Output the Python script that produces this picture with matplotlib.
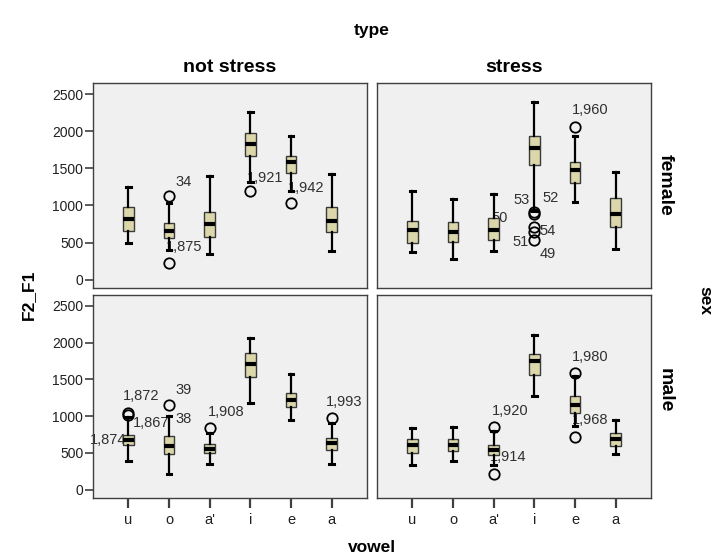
import matplotlib
matplotlib.use("Agg")
import matplotlib.pyplot as plt

plt.rcParams["font.family"] = ["Liberation Sans", "DejaVu Sans"]

vowels = ["u", "o", "a'", "i", "e", "a"]
y_ticks = [0, 500, 1000, 1500, 2000, 2500]

# box stats per panel: whislo, q1, med, q3, whishi (one row per vowel)
female_not_stress = [
    (500, 650, 815, 975, 1250),
    (400, 560, 660, 760, 1030),
    (350, 580, 750, 910, 1390),
    (1310, 1660, 1830, 1970, 2260),
    (1200, 1440, 1580, 1670, 1940),
    (380, 640, 790, 980, 1420),
]
female_stress = [
    (370, 495, 670, 790, 1190),
    (280, 510, 645, 770, 1080),
    (385, 535, 670, 825, 1150),
    (930, 1545, 1775, 1930, 2390),
    (1050, 1305, 1475, 1585, 1940),
    (410, 715, 885, 1105, 1450),
]
male_not_stress = [
    (385, 605, 680, 740, 990),
    (215, 490, 595, 730, 1000),
    (350, 505, 560, 620, 765),
    (1180, 1535, 1705, 1855, 2060),
    (950, 1125, 1225, 1315, 1580),
    (355, 535, 635, 705, 905),
]
male_stress = [
    (330, 505, 605, 695, 845),
    (390, 530, 605, 685, 855),
    (330, 470, 545, 610, 800),
    (1270, 1555, 1750, 1850, 2110),
    (860, 1040, 1155, 1270, 1545),
    (480, 590, 695, 775, 950),
]

# outliers per panel: list of values per vowel
female_not_stress_out = [[], [1130, 225], [], [1195], [1030], []]
female_stress_out = [[], [], [], [905, 890, 715, 640, 540], [2060], []]
male_not_stress_out = [[1045, 1020], [1155], [845], [], [], [980]]
male_stress_out = [[], [], [850, 215], [], [1585, 720], []]

# outlier labels: (vowel index, value, text, dx px, dy px, ha)
female_not_stress_lab = [
    (1, 1130, "34", 6, 14, "left"),
    (1, 225, "1,875", -3, 16, "left"),
    (3, 1195, "1,921", -3, 13, "left"),
    (4, 1030, "1,942", -3, 15, "left"),
]
female_stress_lab = [
    (2, 830, "50", -2, 0, "left"),
    (3, 905, "53", -5, 12, "right"),
    (3, 890, "52", 8, 16, "left"),
    (3, 715, "54", 5, -4, "left"),
    (3, 540, "51", -6, -2, "right"),
    (3, 540, "49", 5, -14, "left"),
    (4, 2060, "1,960", -3, 17, "left"),
]
male_not_stress_lab = [
    (0, 1045, "1,872", -5, 17, "left"),
    (0, 1020, "1,867", 5, -8, "left"),
    (0, 670, "1,874", -2, 0, "right"),
    (1, 1155, "39", 6, 15, "left"),
    (1, 1000, "38", 6, -3, "left"),
    (2, 845, "1,908", -2, 16, "left"),
    (5, 980, "1,993", -6, 16, "left"),
]
male_stress_lab = [
    (2, 850, "1,920", -2, 16, "left"),
    (2, 215, "1,914", -4, 17, "left"),
    (4, 1585, "1,980", -3, 16, "left"),
    (4, 720, "1,968", -3, 17, "left"),
]

box_color = "#dbd7ab"
panel_bg = "#f0f0f0"


def draw_panel(ax, stats, outliers, labels):
    bxp_stats = []
    for (lo, q1, med, q3, hi), fl in zip(stats, outliers):
        bxp_stats.append(dict(whislo=lo, q1=q1, med=med, q3=q3, whishi=hi, fliers=fl))
    ax.bxp(
        bxp_stats,
        positions=range(len(vowels)),
        widths=0.26,
        patch_artist=True,
        boxprops=dict(facecolor=box_color, edgecolor="#3a3a3a", linewidth=1.0),
        medianprops=dict(color="black", linewidth=3, solid_capstyle="butt"),
        whiskerprops=dict(color="black", linewidth=1.6),
        capprops=dict(color="black", linewidth=2.2),
        capwidths=0.12,
        flierprops=dict(marker="o", markerfacecolor="none", markeredgecolor="black",
                        markersize=7.5, markeredgewidth=1.3),
        zorder=3,
    )
    for idx, val, txt, dx, dy, ha in labels:
        ax.annotate(txt, (idx, val), xytext=(dx, dy), textcoords="offset pixels",
                    ha=ha, va="center", fontsize=10.5, color="#303030", zorder=2)
    ax.set_facecolor(panel_bg)
    ax.set_xlim(-0.87, 5.87)
    ax.set_ylim(-110, 2650)
    for s in ax.spines.values():
        s.set_color("#404040")
        s.set_linewidth(1.0)


fig = plt.figure(figsize=(7.21, 5.6), dpi=100)
ax_tl = fig.add_axes([0.129, 0.486, 0.380, 0.366])
ax_tr = fig.add_axes([0.523, 0.486, 0.380, 0.366])
ax_bl = fig.add_axes([0.129, 0.111, 0.380, 0.3625])
ax_br = fig.add_axes([0.523, 0.111, 0.380, 0.3625])

draw_panel(ax_tl, female_not_stress, female_not_stress_out, female_not_stress_lab)
draw_panel(ax_tr, female_stress, female_stress_out, female_stress_lab)
draw_panel(ax_bl, male_not_stress, male_not_stress_out, male_not_stress_lab)
draw_panel(ax_br, male_stress, male_stress_out, male_stress_lab)

for ax in (ax_tl, ax_bl):
    ax.set_yticks(y_ticks)
    ax.set_yticklabels([str(v) for v in y_ticks])
    ax.tick_params(axis="y", length=6, width=1.2, color="#404040", labelsize=10,
                   labelcolor="#202020", pad=1)
for ax in (ax_tr, ax_br):
    ax.set_yticks([])
for ax in (ax_tl, ax_tr):
    ax.set_xticks([])
for ax in (ax_bl, ax_br):
    ax.set_xticks(range(len(vowels)))
    ax.set_xticklabels(vowels)
    ax.tick_params(axis="x", length=7, width=1.6, color="#404040", labelsize=10.5,
                   labelcolor="#202020", pad=4)

fig.text(372 / 721, 1 - 30 / 560, "type", ha="center", va="center",
         fontsize=12.5, fontweight="bold")
fig.text(230 / 721, 1 - 68 / 560, "not stress", ha="center", va="center",
         fontsize=14, fontweight="bold")
fig.text(514 / 721, 1 - 68 / 560, "stress", ha="center", va="center",
         fontsize=14, fontweight="bold")
fig.text(665 / 721, 1 - 185 / 560, "female", ha="center", va="center",
         fontsize=14, fontweight="bold", rotation=-90)
fig.text(665 / 721, 1 - 390 / 560, "male", ha="center", va="center",
         fontsize=14, fontweight="bold", rotation=-90)
fig.text(705 / 721, 1 - 300 / 560, "sex", ha="center", va="center",
         fontsize=12.5, fontweight="bold", rotation=-90)
fig.text(28 / 721, 1 - 295 / 560, "F2_F1", ha="center", va="center",
         fontsize=12.5, fontweight="bold", rotation=90)
fig.text(372 / 721, 1 - 548 / 560, "vowel", ha="center", va="center",
         fontsize=12.5, fontweight="bold")

fig.savefig("out.png", dpi=100)
